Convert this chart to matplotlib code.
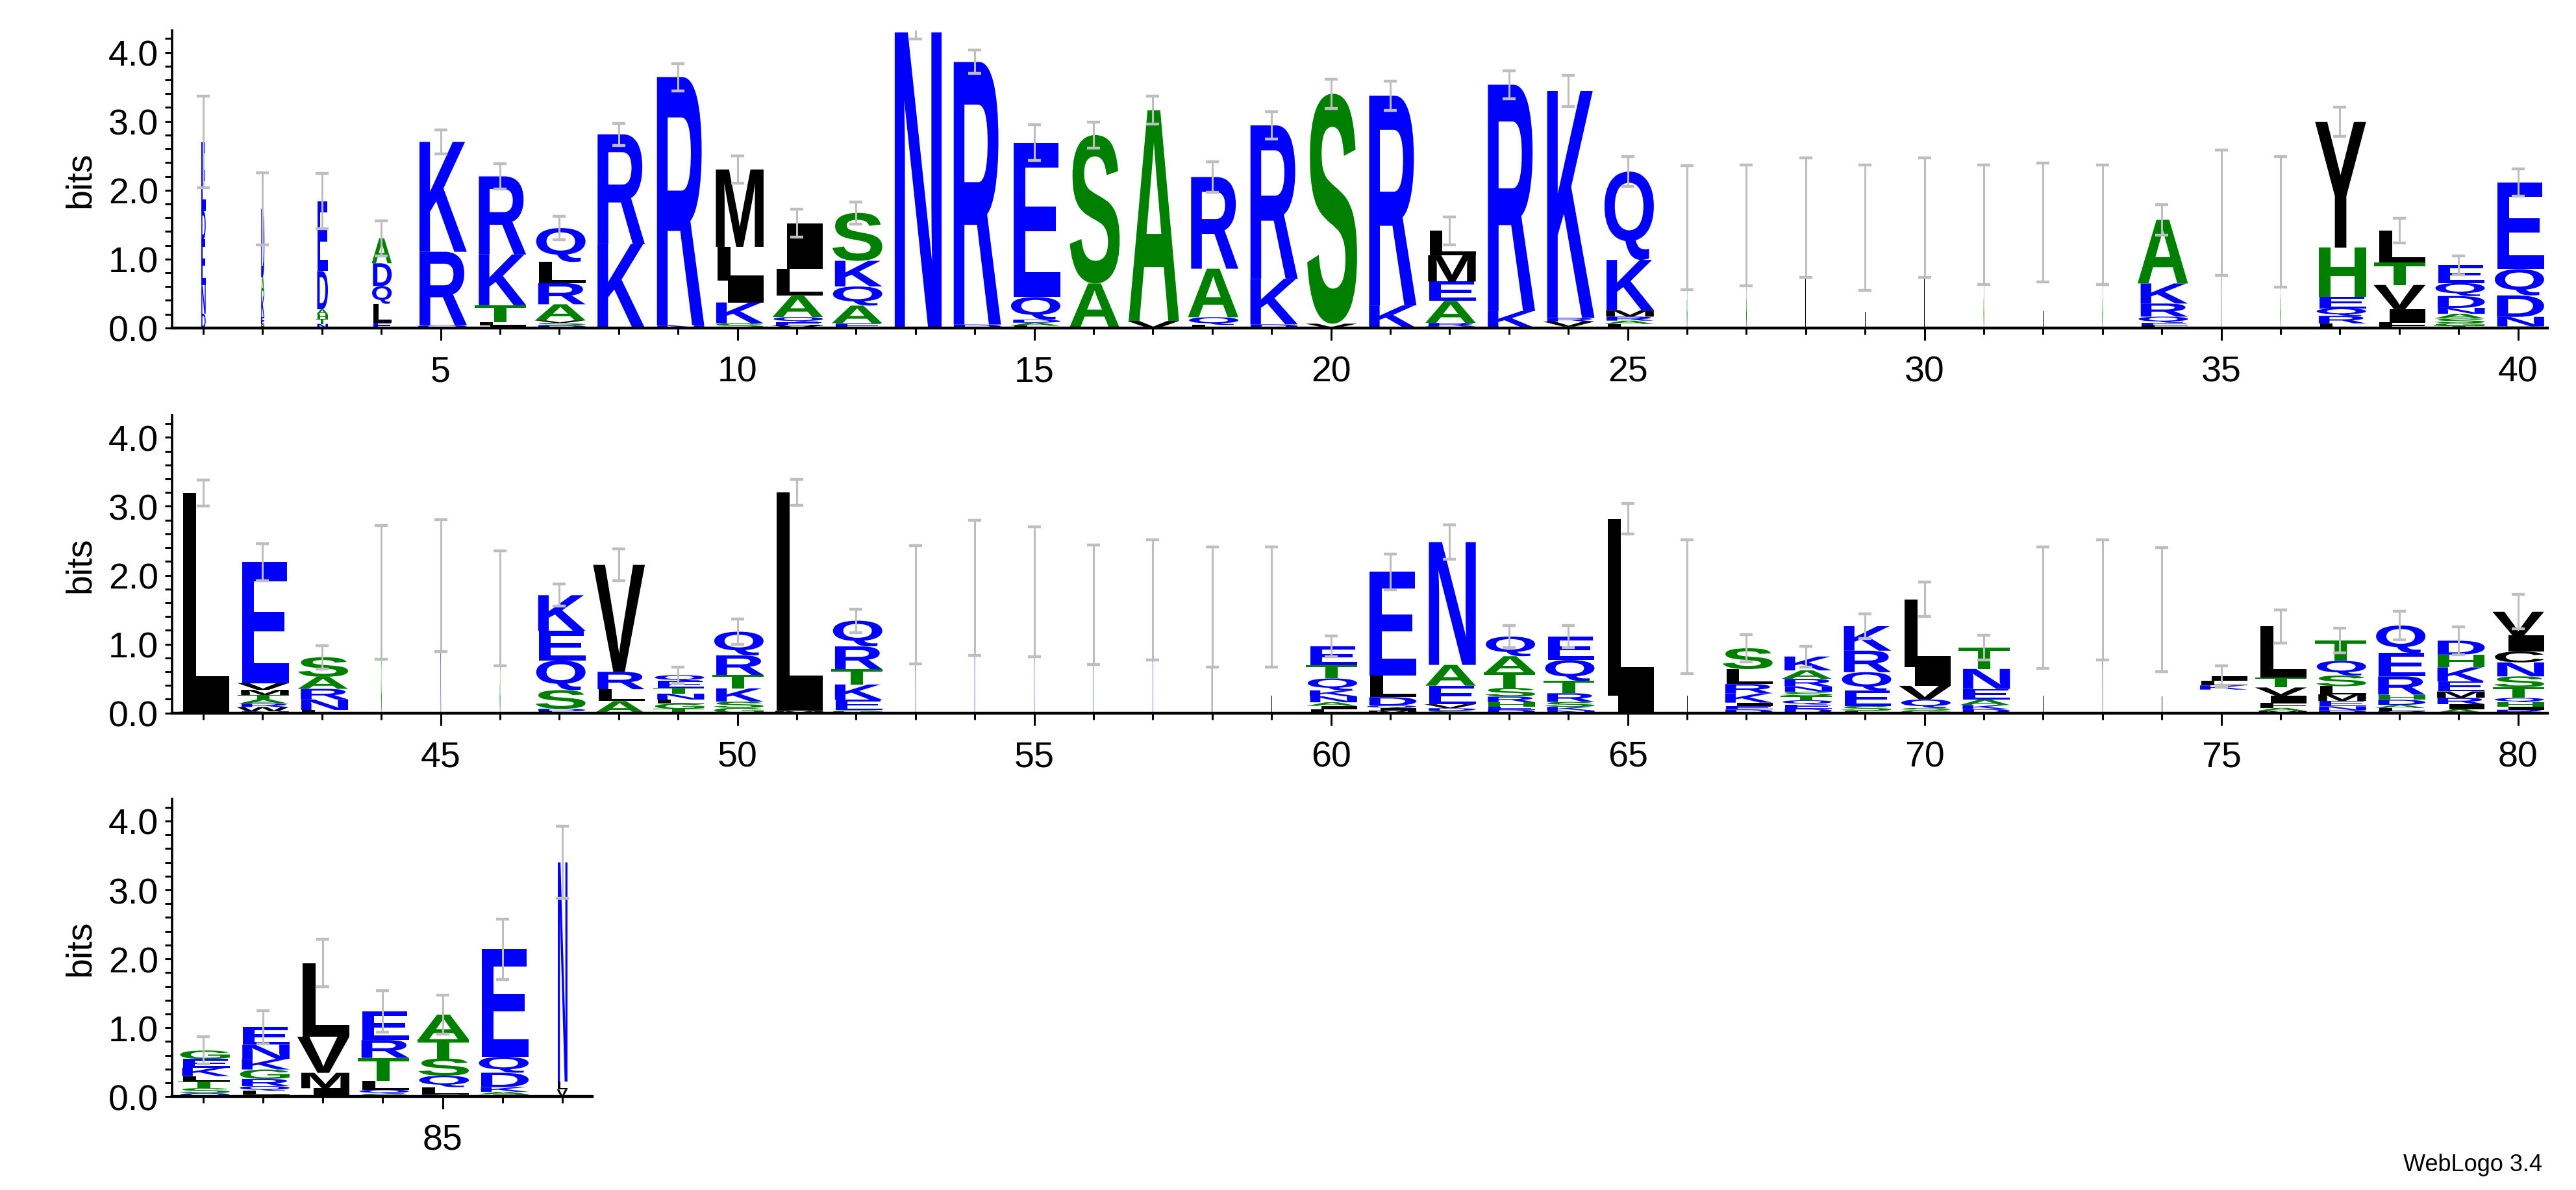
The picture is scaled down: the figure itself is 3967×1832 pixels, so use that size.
import matplotlib
matplotlib.use("Agg")
import matplotlib.pyplot as plt
from matplotlib.textpath import TextPath
from matplotlib.patches import PathPatch
from matplotlib.font_manager import FontProperties
from matplotlib.transforms import Affine2D
from matplotlib.ticker import MultipleLocator, FixedLocator
import numpy as np

plt.rcParams["font.family"] = ["Liberation Sans", "DejaVu Sans"]

# ---------------- data ----------------
positions = list(range(1, 88))

# letters bottom -> top for each position
stack_letters = [
    "DNEDE", "PEKAD", "NTHADE", "ELQDA", "QRK", "ILTKR", "DSVARLQ", "KR", "NR", "SKILM",
    "VEQALI", "EAQKS", "N", "DR", "LADQE", "AS", "VA", "LQAR", "DKR", "VS",
    "KR", "VRAEML", "KR", "AVRK", "LARMKQ", "S", "S", "L", "L", "L",
    "S", "L", "S", "LEQRKA", "K", "S", "LRQEHY", "FIVTL", "TGSANDQE", "GNDQE",
    "VL", "NWRATMVE", "LNRAS", "S", "K", "S", "LDSQEK", "ALRV", "TGLNTEQ", "GSKTRQ",
    "ML", "GEKTRQ", "K", "K", "K", "K", "K", "L", "L", "LIANKQTE",
    "MIQDLE", "SDVEAN", "DEHRSTAQ", "NKSRTQE", "IL", "L", "DEIKRLS", "DEQTSNRAK", "LSEQRK", "GSQVIL",
    "DKAENT", "L", "K", "L", " KLI", "MAFIVTL", "DNEMLSQT", "DLADHREQ", "AIRMEKHD", "RIHQTSNCIV",
    "QSTLKEG", "SLQRGKNE", "IMVL", "SQLTRE", "NLQSTA", "IAKDQE", "VLN",
]

stack_heights = [
    [0.2, 0.4, 0.65, 0.4, 0.97], [0.05, 0.1, 0.3, 0.25, 0.95], [0.05, 0.06, 0.06, 0.06, 0.47, 0.86],
    [0.07, 0.27, 0.25, 0.32, 0.35], [0.04, 1.0, 1.5], [0.03, 0.05, 0.22, 0.67, 1.03],
    [0.03, 0.03, 0.03, 0.19, 0.25, 0.25, 0.4], [1.16, 1.52], [0.04, 3.5], [0.06, 0.27, 0.28, 0.44, 1.0],
    [0.03, 0.04, 0.06, 0.25, 0.32, 0.54], [0.06, 0.22, 0.24, 0.32, 0.6], [4.29], [0.05, 3.8],
    [0.03, 0.04, 0.04, 0.3, 2.05], [0.63, 2.1], [0.1, 3.0], [0.04, 0.1, 0.63, 1.19], [0.05, 0.63, 2.13],
    [0.06, 3.2], [0.32, 2.97], [0.02, 0.04, 0.26, 0.23, 0.31, 0.29], [0.24, 3.22], [0.02, 0.07, 0.05, 3.17],
    [0.05, 0.04, 0.05, 0.08, 0.62, 1.09], [1.0], [1.0], [1.0], [1.0], [1.0],
    [1.0], [1.0], [1.0], [0.03, 0.03, 0.07, 0.15, 0.23, 0.73], [1.0], [1.0],
    [0.06, 0.1, 0.1, 0.15, 0.65, 1.66], [0.07, 0.15, 0.28, 0.26, 0.37],
    [0.02, 0.02, 0.04, 0.04, 0.05, 0.1, 0.11, 0.15], [0.02, 0.12, 0.27, 0.33, 1.09],
    [0.02, 3.06], [0.02, 0.05, 0.04, 0.05, 0.05, 0.06, 0.08, 1.41], [0.02, 0.07, 0.07, 0.08, 0.13],
    [1.0], [1.0], [1.0], [0.02, 0.03, 0.22, 0.35, 0.35, 0.42], [0.15, 0.15, 0.22, 1.35],
    [0.05, 0.06, 0.05, 0.07, 0.07, 0.08, 0.07], [0.05, 0.06, 0.13, 0.13, 0.19, 0.23], [0.03, 3.08],
    [0.03, 0.11, 0.16, 0.16, 0.24, 0.27], [1.0], [1.0], [1.0], [1.0], [1.0], [1.0], [1.0],
    [0.03, 0.03, 0.03, 0.05, 0.05, 0.1, 0.11, 0.16], [0.03, 0.03, 0.03, 0.1, 0.26, 1.24],
    [0.03, 0.03, 0.05, 0.23, 0.26, 1.53], [0.03, 0.03, 0.04, 0.05, 0.08, 0.14, 0.15, 0.18],
    [0.02, 0.03, 0.04, 0.07, 0.1, 0.17, 0.19], [0.24, 2.44], [1.0],
    [0.03, 0.03, 0.03, 0.08, 0.08, 0.13, 0.18], [0.04, 0.04, 0.04, 0.04, 0.04, 0.05, 0.07, 0.08, 0.13],
    [0.02, 0.05, 0.15, 0.18, 0.21, 0.24], [0.03, 0.03, 0.1, 0.16, 0.22, 0.8],
    [0.03, 0.03, 0.04, 0.08, 0.15, 0.16], [1.0], [1.0], [1.0], [0.34, 0.06, 0.07, 0.06],
    [0.02, 0.03, 0.05, 0.07, 0.08, 0.1, 0.5], [0.02, 0.03, 0.04, 0.05, 0.06, 0.08, 0.11, 0.15],
    [0.02, 0.03, 0.03, 0.05, 0.05, 0.18, 0.23, 0.27], [0.03, 0.04, 0.05, 0.05, 0.08, 0.11, 0.1, 0.11],
    [0.03, 0.03, 0.04, 0.04, 0.1, 0.1, 0.13, 0.1, 0.15, 0.22],
    [0.02, 0.03, 0.04, 0.03, 0.05, 0.05, 0.05], [0.02, 0.03, 0.04, 0.06, 0.08, 0.09, 0.12, 0.15],
    [0.11, 0.2, 0.47, 0.96], [0.03, 0.04, 0.09, 0.23, 0.18, 0.29], [0.02, 0.08, 0.12, 0.18, 0.2, 0.26],
    [0.03, 0.03, 0.06, 0.18, 0.2, 1.35], [0.1, 0.11, 3.06],
]

# total stack height (bits)
totals = [
    2.7, 1.73, 1.84, 1.3, 2.7, 2.2, 1.45, 2.81, 3.64, 2.3,
    1.52, 1.67, 4.29, 3.86, 2.69, 2.8, 3.16, 2.19, 2.94, 3.4,
    3.37, 1.41, 3.53, 3.44, 2.27, 1.46, 1.49, 1.6, 1.46, 1.6,
    1.5, 1.53, 1.5, 1.57, 1.67, 1.54, 2.99, 1.41, 0.91, 2.11,
    3.19, 2.19, 0.81, 1.75, 1.85, 1.52, 1.71, 2.15, 0.55, 1.18,
    3.2, 1.34, 1.57, 1.82, 1.76, 1.57, 1.64, 1.54, 1.54, 0.97,
    2.05, 2.48, 1.11, 1.11, 2.82, 1.54, 0.94, 0.82, 1.26, 1.65,
    0.95, 1.53, 1.64, 1.5, 0.53, 1.26, 1.05, 1.27, 1.05, 1.47,
    0.67, 1.01, 1.94, 1.24, 1.19, 2.14, 3.4,
]

# error bar half-widths (bits)
errors = [
    0.66, 0.52, 0.4, 0.25, 0.17, 0.18, 0.17, 0.16, 0.2, 0.2,
    0.2, 0.16, 0.1, 0.17, 0.26, 0.19, 0.2, 0.22, 0.2, 0.21,
    0.21, 0.2, 0.2, 0.23, 0.22, 0.9, 0.88, 0.87, 0.91, 0.87,
    0.87, 0.86, 0.87, 0.22, 0.91, 0.95, 0.21, 0.18, 0.14, 0.2,
    0.19, 0.27, 0.17, 0.97, 0.96, 0.83, 0.16, 0.23, 0.12, 0.18,
    0.19, 0.17, 0.86, 0.98, 0.94, 0.87, 0.87, 0.87, 0.87, 0.15,
    0.26, 0.25, 0.16, 0.16, 0.22, 0.97, 0.2, 0.15, 0.18, 0.25,
    0.18, 0.88, 0.87, 0.9, 0.16, 0.24, 0.18, 0.21, 0.2, 0.25,
    0.2, 0.24, 0.34, 0.3, 0.28, 0.44, 0.52,
]

# fraction of column occupied (non-gap fraction)
col_width = [
    0.08, 0.06, 0.2, 0.35, 0.88, 0.88, 0.88, 0.88, 0.88, 0.88,
    0.88, 0.88, 0.88, 0.88, 0.88, 0.88, 0.88, 0.88, 0.88, 0.88,
    0.88, 0.88, 0.88, 0.88, 0.88, 0.012, 0.012, 0.012, 0.012, 0.012,
    0.012, 0.012, 0.012, 0.88, 0.012, 0.012, 0.88, 0.88, 0.88, 0.88,
    0.88, 0.88, 0.88, 0.012, 0.012, 0.012, 0.88, 0.88, 0.88, 0.88,
    0.88, 0.88, 0.012, 0.012, 0.012, 0.012, 0.012, 0.012, 0.012, 0.88,
    0.88, 0.88, 0.88, 0.88, 0.88, 0.012, 0.88, 0.88, 0.88, 0.88,
    0.88, 0.012, 0.012, 0.012, 0.88, 0.88, 0.88, 0.88, 0.88, 0.88,
    0.88, 0.88, 0.88, 0.88, 0.88, 0.88, 0.18,
]

colors = {}
for c in "KREDQN":
    colors[c] = "#0000ff"
for c in "ASTGH":
    colors[c] = "#008000"
for c in "LIVMFWYPC":
    colors[c] = "#000000"

fp = FontProperties(family="Liberation Sans", weight="bold")
glyph_cache = {}


def glyph(ch):
    if ch not in glyph_cache:
        p = TextPath((0, 0), ch, size=1, prop=fp)
        v = p.vertices
        glyph_cache[ch] = (p, v[:, 0].min(), v[:, 0].max(), v[:, 1].min(), v[:, 1].max())
    return glyph_cache[ch]


def draw_letter(ax, ch, xc, y0, w, h):
    if ch == " " or h <= 0:
        return
    p, x0, x1, yb, yt = glyph(ch)
    tr = Affine2D().translate(-x0, -yb).scale(w / (x1 - x0), h / (yt - yb)).translate(xc - w / 2, y0)
    patch = PathPatch(tr.transform_path(p), facecolor=colors[ch], edgecolor="none", lw=0)
    ax.add_patch(patch)


fig = plt.figure(figsize=(19.835, 9.165), dpi=200)
rows = [
    (range(1, 41), [0.0667, 0.724, 0.9223, 0.250]),
    (range(41, 81), [0.0667, 0.4006, 0.9223, 0.250]),
    (range(81, 88), [0.0667, 0.0784, 0.1631, 0.250]),
]
FS = 20
for prange, rect in rows:
    ax = fig.add_axes(rect)
    plist = list(prange)
    for p in plist:
        i = p - 1
        hs = np.array(stack_heights[i], dtype=float)
        hs = hs * totals[i] / hs.sum()
        y = 0.0
        for ch, h in zip(stack_letters[i], hs):
            draw_letter(ax, ch, p, y, col_width[i], h)
            y += h
    ax.errorbar(plist, [totals[p - 1] for p in plist], yerr=[errors[p - 1] for p in plist],
                fmt="none", ecolor="#bebebe", elinewidth=1.1, capsize=3.6, capthick=1.6, zorder=5)
    ax.set_xlim(plist[0] - 0.53, plist[-1] + 0.5)
    ax.set_ylim(0, 4.32)
    for s in ["top", "right"]:
        ax.spines[s].set_visible(False)
    ax.spines["bottom"].set_linewidth(1.6)
    ax.spines["left"].set_linewidth(1.3)
    majors = [p for p in plist if p % 5 == 0]
    ax.xaxis.set_major_locator(FixedLocator(majors))
    ax.xaxis.set_minor_locator(FixedLocator([p for p in plist if p % 5 != 0]))
    ax.set_xticklabels([str(m) for m in majors])
    ax.tick_params(axis="x", which="major", length=7, width=1.1, labelsize=FS, pad=8)
    ax.tick_params(axis="x", which="minor", length=3.5, width=1.1)
    ax.set_yticks([0, 1, 2, 3, 4])
    ax.set_yticklabels(["0.0", "1.0", "2.0", "3.0", "4.0"])
    ax.yaxis.set_minor_locator(MultipleLocator(0.2))
    ax.tick_params(axis="y", which="major", length=4, width=1.1, labelsize=FS)
    ax.tick_params(axis="y", which="minor", length=4, width=1.1)
    ax.set_ylabel("bits", fontsize=FS, labelpad=6)

fig.text(0.987, 0.012, "WebLogo 3.4", ha="right", va="bottom", fontsize=13)
fig.savefig("out.png", dpi=200)
